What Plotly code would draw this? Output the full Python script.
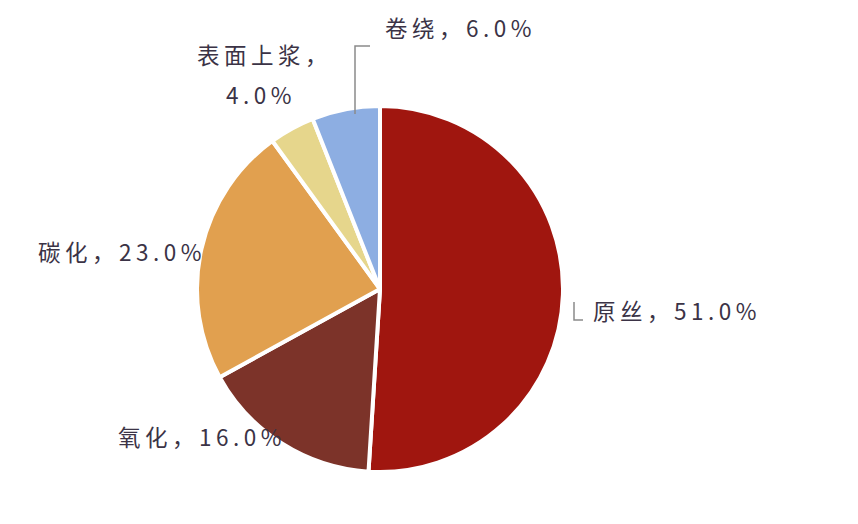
import plotly.graph_objects as go

# 碳纤维成本构成
stages = ["原丝", "氧化", "碳化", "表面上浆", "卷绕"]
shares = [51.0, 16.0, 23.0, 4.0, 6.0]
colors = ["#A0160F", "#7C3329", "#E1A04F", "#E6D68C", "#8DAEE2"]

W, H = 858, 524

fig = go.Figure(go.Pie(
    labels=stages, values=shares, sort=False,
    direction="clockwise", rotation=0,
    marker=dict(colors=colors, line=dict(color="white", width=4)),
    textinfo="none", hoverinfo="label+percent",
    domain=dict(x=[189 / W, 555 / W], y=[1 - 464 / H, 1 - 98 / H]),
    showlegend=False,
))


def spaced(s):
    # 字间距稍宽，接近原图
    return "\u2009".join(s)


# 标签位置（像素坐标，文字中心）
label_pos = {
    "原丝": (666, 302),
    "氧化": (191, 428),
    "碳化": (111, 243),
    "卷绕": (450, 19),
}
font = dict(family="Noto Sans CJK SC", size=22.5, color="#3b3346")
for name, val in zip(stages, shares):
    pct = f"{val:.1f}%"
    if name == "表面上浆":
        lines = [(spaced(name + "，"), 254, 46), (spaced(pct), 250, 86)]
    else:
        px_, py_ = label_pos[name]
        lines = [(spaced(name + "，" + pct), px_, py_)]
    for text, px_, py_ in lines:
        fig.add_annotation(
            x=px_ / W, y=1 - py_ / H, xref="paper", yref="paper",
            xanchor="center", yanchor="middle",
            text=text, showarrow=False, font=font, align="center",
        )

# 引导线
leaders = [
    [(347, 106), (347, 38), (362, 38)],
    [(566, 294), (566, 312), (575, 312)],
]
for pts in leaders:
    path = "M " + " L ".join(f"{x / W},{1 - y / H}" for x, y in pts)
    fig.add_shape(type="path", path=path, xref="paper", yref="paper",
                  line=dict(color="#8a8a8a", width=1.5))

fig.update_layout(
    width=W, height=H,
    margin=dict(l=0, r=0, t=0, b=0),
    paper_bgcolor="white", plot_bgcolor="white",
)

fig.write_html("out.html")
